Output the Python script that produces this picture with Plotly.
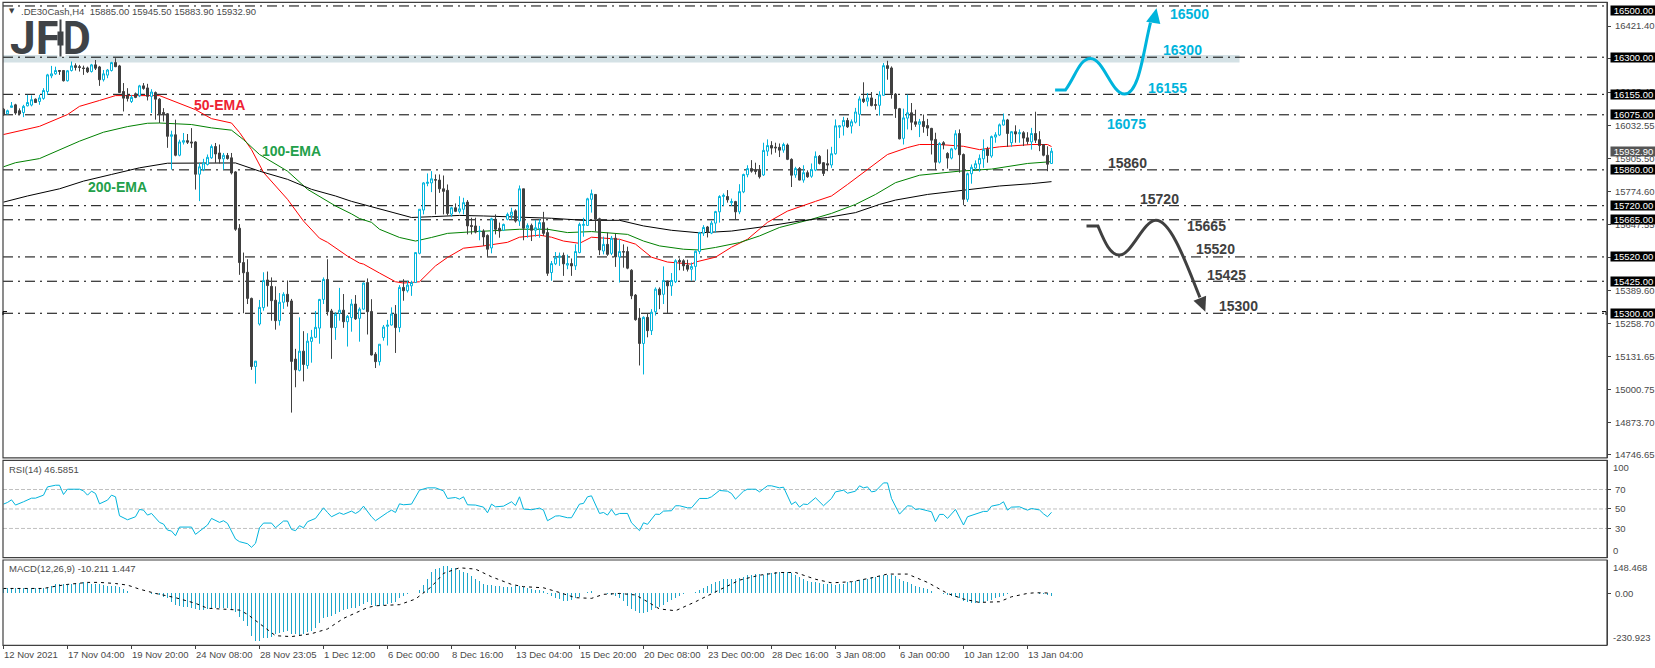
import plotly.graph_objects as go

W, H = 1655, 668
bars = list(range(263))

opens = [16097,16079,16104,16114,16091,16084,16110,16113,16136,16127,
16139,16166,16227,16235,16248,16248,16208,16248,16267,16263,
16258,16258,16244,16270,16262,16212,16230,16248,16279,16266,
16166,16151,16127,16157,16149,16188,16180,16147,16162,16136,
16084,16079,15991,15997,15917,15968,15974,15969,15969,15843,
15861,15881,15907,15951,15926,15903,15916,15907,15852,15632,
15498,15460,15358,15092,15258,15322,15430,15405,15351,15271,
15343,15374,15348,15121,15077,15152,15096,15190,15206,15242,
15354,15432,15309,15244,15299,15312,15267,15283,15336,15280,
15316,15420,15307,15140,15111,15205,15249,15254,15297,15244,
15401,15388,15407,15420,15534,15703,15807,15809,15822,15820,
15786,15780,15687,15712,15698,15706,15734,15643,15641,15619,
15621,15604,15555,15667,15632,15624,15667,15682,15700,15660,
15786,15633,15643,15624,15630,15654,15615,15459,15493,15519,
15526,15488,15494,15485,15537,15643,15643,15745,15764,15669,
15543,15569,15534,15593,15520,15541,15541,15468,15371,15281,
15182,15284,15232,15306,15394,15374,15426,15407,15423,15506,
15505,15488,15472,15483,15541,15613,15637,15613,15652,15696,
15756,15756,15732,15736,15696,15774,15841,15865,15859,15858,
15840,15933,15955,15949,15948,15937,15957,15901,15840,15865,
15820,15849,15835,15859,15913,15888,15884,15879,15923,16027,
16031,16053,16031,16046,16077,16137,16128,16141,16115,16112,
16151,16267,16258,16156,16099,15983,16062,16083,16048,16038,
16049,16033,16022,15979,15890,15966,15924,15906,15942,16002,
15920,15745,15845,15867,15883,15903,15940,15914,15988,15996,
16035,16055,15966,16009,16001,16005,15985,15969,16002,15978,
15959,15917,15885.0]
highs = [16101,16095,16125,16118,16100,16114,16153,16151,16139,16153,
16179,16235,16266,16263,16250,16250,16250,16283,16276,16270,
16267,16263,16274,16289,16266,16250,16254,16282,16296,16270,
16199,16179,16153,16162,16192,16199,16196,16175,16166,16140,
16101,16082,16013,16056,15978,16004,16000,16023,15972,15887,
15903,15920,15959,15965,15959,15926,15926,15926,15855,15648,
15537,15511,15361,15113,15352,15460,15463,15440,15405,15379,
15382,15428,15356,15161,15284,15230,15222,15235,15309,15356,
15440,15511,15317,15304,15399,15375,15293,15355,15371,15323,
15420,15436,15355,15148,15179,15254,15274,15323,15332,15410,
15433,15427,15427,15537,15706,15812,15846,15855,15842,15842,
15838,15803,15716,15729,15757,15751,15742,15673,15673,15641,
15628,15608,15673,15686,15654,15650,15693,15712,15706,15799,
15786,15651,15650,15664,15667,15696,15634,15504,15539,15537,
15537,15529,15514,15569,15654,15673,15751,15783,15764,15673,
15599,15615,15602,15612,15589,15569,15560,15472,15375,15320,
15288,15297,15316,15401,15401,15483,15427,15457,15511,15514,
15511,15509,15498,15545,15618,15644,15641,15661,15700,15761,
15768,15781,15748,15739,15804,15845,15878,15898,15888,15879,
15966,15979,15972,15966,15963,15966,15963,15905,15872,15871,
15878,15858,15885,15932,15918,15890,15940,15950,16057,16033,
16067,16063,16057,16102,16147,16202,16160,16164,16137,16167,
16277,16286,16264,16160,16102,16099,16154,16121,16095,16059,
16076,16059,16024,16005,15968,15972,15929,15946,16015,16018,
15924,15849,15881,15897,15920,15979,15950,15994,16007,16041,
16080,16059,16011,16034,16018,16011,16007,16024,16087,16011,
15959,15952,15945.5]
lows = [16071,16077,16104,16075,16074,16066,16108,16108,16121,16114,
16134,16153,16218,16231,16231,16205,16205,16244,16248,16244,
16231,16238,16240,16250,16188,16205,16218,16244,16261,16160,
16088,16127,16121,16140,16144,16173,16131,16082,16056,16043,
16049,15946,15861,15913,15913,15959,15961,15946,15783,15738,
15855,15877,15903,15887,15885,15861,15900,15842,15622,15450,
15300,15336,15079,15025,15252,15310,15326,15271,15236,15252,
15317,15326,14912,15011,15073,15034,15083,15107,15203,15181,
15336,15291,15122,15196,15271,15243,15170,15228,15274,15189,
15314,15217,15135,15086,15096,15193,15174,15252,15145,15226,
15349,15381,15368,15420,15530,15686,15796,15773,15686,15770,
15686,15682,15677,15695,15690,15686,15608,15608,15612,15585,
15563,15521,15534,15608,15595,15621,15663,15667,15654,15641,
15585,15595,15582,15599,15595,15602,15446,15427,15488,15485,
15446,15472,15446,15469,15534,15599,15641,15693,15620,15527,
15530,15524,15527,15481,15420,15478,15472,15355,15271,15096,
15061,15206,15215,15291,15316,15336,15301,15368,15418,15468,
15466,15463,15427,15427,15531,15602,15596,15609,15615,15654,
15719,15732,15719,15665,15687,15769,15831,15849,15842,15826,
15836,15914,15920,15927,15910,15927,15898,15793,15829,15819,
15810,15829,15829,15855,15881,15836,15855,15868,15919,15984,
15994,16024,16002,16041,16031,16121,16108,16108,16095,16072,
16150,16212,16138,16063,15979,15959,16018,16015,16028,15988,
16005,15992,15920,15859,15885,15940,15865,15901,15937,15849,
15722,15735,15806,15859,15853,15868,15888,15907,15966,15992,
16033,15950,15950,15966,15966,15953,15959,15939,15965,15933,
15913,15855,15883.9]
closes = [16075,16091,16110,16082,16079,16108,16123,16134,16123,16141,
16170,16231,16235,16248,16245,16208,16247,16266,16260,16260,
16256,16243,16270,16257,16212,16235,16250,16279,16263,16162,
16140,16139,16143,16143,16188,16178,16147,16164,16136,16078,
16079,15991,15997,15917,15969,15974,15968,15965,15843,15872,
15887,15909,15951,15922,15903,15917,15904,15848,15628,15498,
15458,15358,15092,15113,15323,15428,15408,15349,15271,15343,
15374,15345,15112,15079,15152,15100,15191,15206,15245,15354,
15432,15306,15244,15296,15312,15267,15288,15336,15278,15316,
15418,15306,15137,15111,15179,15246,15254,15297,15244,15401,
15388,15410,15420,15537,15706,15809,15812,15825,15820,15786,
15776,15690,15712,15698,15708,15732,15641,15639,15617,15621,
15598,15550,15669,15628,15621,15647,15686,15695,15660,15786,
15632,15643,15624,15634,15654,15612,15456,15494,15517,15523,
15493,15494,15485,15541,15647,15647,15747,15767,15667,15547,
15569,15530,15593,15520,15541,15539,15476,15368,15275,15182,
15284,15232,15304,15394,15372,15428,15407,15428,15505,15501,
15485,15472,15483,15542,15615,15635,15615,15652,15697,15756,
15761,15743,15736,15696,15775,15842,15865,15855,15854,15833,
15936,15955,15945,15946,15937,15959,15901,15839,15865,15820,
15849,15833,15861,15913,15885,15846,15879,15923,16032,16032,
16053,16028,16048,16086,16137,16127,16141,16111,16112,16153,
16267,16256,16158,16099,15981,16063,16083,16046,16038,16048,
16029,16023,15976,15890,15963,15958,15906,15942,16001,15919,
15745,15845,15870,15884,15905,15940,15916,15990,15997,16036,
16055,16002,16009,16000,16005,15984,15971,16002,15976,15955,
15917,15882,15932.9]

ema50_bars = [0,9,16,19,24,28,39,41,48,52,57,59,62,65,71,75,79,81,86,89,90,94,98,100,104,108,111,115,120,126,129,134,137,140,144,147,154,158,162,166,172,173,178,182,186,191,196,203,207,211,216,221,226,229,234,240,244,249,257,261,262]
ema50 = [15998,16030,16076,16108,16131,16150,16150,16138,16095,16060,16043,16006,15939,15850,15745,15660,15593,15577,15523,15496,15492,15457,15423,15418,15423,15485,15518,15554,15563,15577,15597,15605,15597,15582,15573,15597,15589,15570,15519,15500,15492,15500,15519,15558,15589,15655,15699,15737,15758,15803,15862,15920,15947,15959,15959,15952,15939,15950,15959,15959,15951]
ema100_bars = [0,3,9,14,19,25,31,36,39,47,52,57,60,64,71,76,83,87,89,92,94,99,103,107,111,116,122,129,136,141,147,156,160,164,170,174,178,184,189,194,202,207,213,218,223,229,239,247,256,262]
ema100 = [15872,15888,15904,15939,15972,16007,16029,16042,16043,16037,16024,16015,15978,15920,15855,15784,15719,15688,15670,15655,15628,15596,15582,15596,15612,15617,15621,15628,15628,15615,15619,15608,15582,15563,15550,15547,15557,15576,15602,15635,15667,15690,15725,15764,15810,15839,15855,15863,15885,15892]
ema200_bars = [0,6,14,20,27,34,41,52,58,64,71,77,83,87,92,97,102,107,114,120,129,137,145,154,160,167,174,182,190,199,206,213,219,223,231,240,249,257,262]
ema200 = [15734,15758,15786,15816,15842,15868,15886,15887,15887,15855,15823,15784,15758,15737,15716,15693,15674,15677,15682,15680,15676,15671,15663,15663,15641,15624,15614,15621,15638,15660,15674,15693,15725,15742,15764,15781,15797,15806,15814]

rsi_bars = [0,1,2,3,5,7,8,10,11,13,14,15,16,19,20,21,22,23,24,26,27,28,29,31,33,34,35,36,37,39,40,41,42,43,44,47,48,51,52,54,55,56,58,59,61,62,63,64,65,67,68,70,71,72,73,74,75,76,78,80,81,82,84,85,87,88,89,90,92,93,96,97,98,99,100,102,104,106,108,110,111,113,114,115,116,118,120,121,122,123,125,127,128,129,
130,132,134,135,136,138,139,141,142,144,145,146,147,149,150,151,152,153,154,156,157,159,160,161,163,164,165,167,168,169,171,172,174,176,177,179,181,182,183,185,186,188,189,191,192,194,195,197,198,199,200,201,203,205,207,208,210,211,213,214,215,216,217,218,220,221,222,224,226,227,228,229,231,232,233,234,235,236,238,240,241,243,245,246,247,249,250,251,252,254,256,257,258,259,260,261,262]
rsi = [55,56.7,59.4,54,57.4,61.1,61.1,64.2,72.7,74.4,74.4,64.9,70.3,70.3,68.6,64.2,68.3,65.9,55.3,59.1,64.2,62.5,43,38.9,42,49.5,48.8,43.7,45.4,36.2,34.5,28.3,27.3,22.5,31.4,31.4,23.9,33.5,40.3,36.2,37.9,35.2,19.1,16.4,14.3,10.6,14.7,30.7,35.5,35.5,30.7,37.6,37.6,29,27.7,32.8,30.7,36.9,40.3,51.2,46.4,42,46.1,44.4,47.8,45.4,47.8,52.9,42,37.9,46.4,48.8,46.4,55.3,54.3,55,69.3,71.7,71.7,68.6,60.8,61.8,60.1,62.5,54.3,54,51.9,46.1,55,52.2,52.9,57.4,53.5,62.5,
49.9,49.2,50.9,48.8,37.9,42.7,43,41,41,55,55.7,62.5,63.5,45.4,46.4,43.7,49.5,43.7,45.4,45.4,35.8,27.7,35.8,34.2,44.7,44.4,47.8,48.2,53.3,53.3,51.2,51.2,60.8,60.8,62.5,69,68.3,65.9,60.1,68.3,70.3,70.3,67.6,73.8,73.8,71.7,72.4,54.6,57.4,51.9,55,54.6,61.5,53.3,60.8,67.6,69.3,66.2,68.3,73.8,71.7,72.7,67.6,68.3,76.8,76.8,60.8,44.7,53.3,52.9,49.5,50.2,48.2,47.1,36.9,44.4,44.4,40.3,49.5,33.5,42,44.4,47.5,47.5,52.9,54.6,57.4,48.8,51.9,52.2,48.8,50.5,50,49,45,42,46.5851]

macd_hist = [22,22,22,22,22,22,22,22,22,22,22,25,34,40,40,40,40,43,44,47,49,47,44,43,40,37,34,34,32,30,19,10,3,1.5,1.5,1.5,0,-1.5,-3,-7,
-15,-22,-37,-52,-56,-59,-62,-66,-71,-74,-74,-69,-66,-66,-66,-66,-66,-74,-81,-103,-121,-145,-188,-210,-211,-199,-196,-192,-182,-177,
-170,-167,-179,-182,-185,-182,-173,-167,-155,-133,-111,-103,-99,-93,-84,-74,-69,-66,-63,-56,-49,-37,-52,-55,-55,-52,-49,-44,-37,-22,
-10,-4,1.5,4,15,37,66,93,108,114,120,123,114,111,105,96,89,78,66,55,44,37,37,35,32,30,30,30,32,32,
30,22,18,15,15,12,-4,-10,-19,-25,-32,-34,-30,-19,-15,0,7,12,4,0,0,-4,-7,-10,-19,-34,-55,-69,-78,-86,
-89,-81,-74,-66,-59,-52,-37,-30,-19,-10,-4,0,3,7,15,25,34,40,49,56,63,63,63,62,69,74,81,84,86,86,
84,89,92,95,96,97,96,92,81,74,63,55,52,49,46,44,41,40,37,40,41,49,52,56,59,63,66,71,74,78,
81,81,84,78,66,55,49,40,34,30,22,18,10,3,0,-3,-7,-10,-15,-19,-34,-40,-44,-44,-44,-40,-34,-30,-19,-15,
-10,-1.5,0,0,0,1.5,1.5,1.5,1.5,-1,-3,-6,-10.211]
signal_bars = [0,10,13,16,21,24,28,31,34,38,43,48,51,56,59,61,65,68,72,77,81,85,91,93,99,103,107,110,114,118,122,127,130,135,139,143,147,150,154,158,161,164,168,173,178,184,189,194,198,203,207,212,217,221,226,231,236,240,244,249,252,256,258,262]
signal = [22,22,32,40,49,49,44,37,19,0,-19,-44,-66,-71,-74,-93,-148,-188,-192,-179,-158,-111,-63,-55,-50,-25,30,89,114,108,74,40,30,25,4,-19,-22,-4,0,-7,-37,-69,-77,-37,7,59,81,93,93,63,47,52,69,86,86,49,0,-25,-40,-37,-15,0,3,1.447]

level_prices = [16500,16300,16155,16075,15860,15720,15665,15520,15425,15300]
axis_ticks = [16421.40,16294.35,16163.45,16032.55,15905.50,15774.60,15647.55,15516.65,15389.60,15258.70,15131.65,15000.75,14873.70,14746.65]
time_ticks = [0,16,32,48,64,80,96,112,128,144,160,176,192,208,224,240,256]
time_labels = ["12 Nov 2021","17 Nov 04:00","19 Nov 20:00","24 Nov 08:00","28 Nov 23:05","1 Dec 12:00","6 Dec 00:00","8 Dec 16:00","13 Dec 04:00","15 Dec 20:00","20 Dec 08:00","23 Dec 00:00","28 Dec 16:00","3 Jan 08:00","6 Jan 00:00","10 Jan 12:00","13 Jan 04:00"]

blue_labels = [("16500",296.5,16469),("16300",294.75,16329),("16155",290.9,16181),("16075",280.75,16041)]
dark_labels = [("15860",280.9,15886),("15720",288.9,15745),("15665",300.65,15640),("15520",303,15550),("15425",305.7,15449),("15300",308.75,15328)]
ema_labels = [("50-EMA",54,16115,"#ee2233"),("100-EMA",72,15935,"#22a04a"),("200-EMA",28.5,15795,"#22a04a")]

FONT = "Liberation Sans"
TXT = "#4a4a4a"
BLUE = "#00b4dc"
DARK = "#404040"
LOGO = "#3f4347"

def py(v):
    return 1 - v / H
def px(v):
    return v / W

XMIN, XMAX = -0.125, 400.875

fig = go.Figure()
line_style = [("#ff0000", ema50_bars, ema50), ("#008000", ema100_bars, ema100), ("#000000", ema200_bars, ema200)]
for col, xs, ys in line_style:
    fig.add_trace(go.Scatter(x=xs, y=ys, mode="lines", line=dict(color=col, width=1), xaxis="x", yaxis="y", showlegend=False, hoverinfo="skip"))
fig.add_trace(go.Candlestick(x=bars, open=opens, high=highs, low=lows, close=closes, xaxis="x", yaxis="y4",
    increasing=dict(line=dict(color=BLUE, width=1), fillcolor="#ffffff"),
    decreasing=dict(line=dict(color=DARK, width=1), fillcolor=DARK),
    whiskerwidth=0, showlegend=False, hoverinfo="skip"))
fig.add_trace(go.Scatter(x=rsi_bars, y=rsi, mode="lines", line=dict(color=BLUE, width=1), xaxis="x", yaxis="y2", showlegend=False, hoverinfo="skip"))
fig.add_trace(go.Bar(x=bars, y=macd_hist, width=0.25, marker=dict(color="#1ea6ca", line=dict(width=0)), xaxis="x", yaxis="y3", showlegend=False, hoverinfo="skip"))
fig.add_trace(go.Scatter(x=signal_bars, y=signal, mode="lines", line=dict(color="#000000", width=1, dash="3px,4px"), xaxis="x", yaxis="y3", showlegend=False, hoverinfo="skip"))

shapes = []
shapes.append(dict(type="rect", xref="x", yref="y", x0=XMIN, x1=309, y0=16279, y1=16309, fillcolor="#d4e1e5", line=dict(width=0), layer="below"))
for p in level_prices:
    shapes.append(dict(type="line", xref="x", yref="y", x0=XMIN, x1=XMAX, y0=p, y1=p, line=dict(color="#000000", width=1, dash="10px,5px,2px,5px"), layer="below"))
for lv in (70, 50, 30):
    shapes.append(dict(type="line", xref="x", yref="y2", x0=XMIN, x1=XMAX, y0=lv, y1=lv, line=dict(color="#c0c0c0", width=1, dash="4px,2px"), layer="below"))
for top, bot in ((2.3, 459.3), (461.7, 559.3), (561.7, 647.3)):
    shapes.append(dict(type="rect", xref="paper", yref="paper", x0=px(3), x1=px(1607), y0=py(bot), y1=py(top), line=dict(color=DARK, width=1.2), fillcolor="rgba(0,0,0,0)", layer="above"))
shapes.append(dict(type="path", xref="x", yref="y", layer="above", line=dict(color=BLUE, width=3),
    path="M 262.9,16172 L 265.5,16172 C 268,16225 269,16295 271.75,16295 C 275,16295 277,16156 280.25,16156 C 284,16156 285,16330 286.75,16435"))
shapes.append(dict(type="path", xref="x", yref="y", layer="above", line=dict(width=0), fillcolor=BLUE,
    path="M 288.25,16491 L 285.65,16438 L 289.2,16430 Z"))
shapes.append(dict(type="path", xref="x", yref="y", layer="above", line=dict(color=DARK, width=3),
    path="M 270.75,15641 L 273.6,15641 C 275,15590 276.5,15527 279,15527 C 282,15527 285,15663 288.1,15663 C 292,15663 296,15480 299.1,15362"))
shapes.append(dict(type="path", xref="x", yref="y", layer="above", line=dict(width=0), fillcolor=DARK,
    path="M 300.45,15306 L 297.5,15349 L 300.65,15368 Z"))
shapes.append(dict(type="path", xref="paper", yref="paper", line=dict(color="#000000", width=1), layer="above",
    path=f"M {px(3)},{py(316)} L {px(3)},{py(312.5)} L {px(7)},{py(312.5)}"))
shapes.append(dict(type="path", xref="paper", yref="paper", line=dict(color="#000000", width=1), layer="above",
    path=f"M {px(1602)},{py(312.5)} L {px(1606)},{py(312.5)} L {px(1606)},{py(316)}"))

def cap(text, x, y, size=9.5, color=TXT, family=FONT, **kw):
    d = dict(text=text, x=px(x), y=py(y), xref="paper", yref="paper", xanchor="left", yanchor="middle", showarrow=False,
             font=dict(family=family, size=size, color=color, **kw))
    return d

ann = []
for text, x, y in blue_labels:
    ann.append(dict(text=text, x=x, y=y, xref="x", yref="y", showarrow=False, font=dict(family=FONT, size=14, color=BLUE, weight="bold")))
for text, x, y in dark_labels:
    ann.append(dict(text=text, x=x, y=y, xref="x", yref="y", showarrow=False, font=dict(family=FONT, size=14, color=DARK, weight="bold")))
for text, x, y, c in ema_labels:
    ann.append(dict(text=text, x=x, y=y, xref="x", yref="y", showarrow=False, font=dict(family=FONT, size=14, color=c, weight="bold")))
for p in level_prices:
    ann.append(dict(text=f"{p:.2f}", x=px(1610), y=min(p, 16484), xref="paper", yref="y", xanchor="left", yanchor="middle", showarrow=False,
        bgcolor="#000000", font=dict(family=FONT, size=9.5, color="#ffffff"), width=45, height=9, borderpad=0, align="center"))
ann.append(dict(text="15932.90", x=px(1610), y=15932.9, xref="paper", yref="y", xanchor="left", yanchor="middle", showarrow=False,
    bgcolor="#555555", font=dict(family=FONT, size=9.5, color="#ffffff"), width=45, height=9, borderpad=0, align="center"))
ann.append(cap("▼", 7, 11.5, size=7, color=DARK, family="DejaVu Sans"))
ann.append(cap(".DE30Cash,H4  15885.00 15945.50 15883.90 15932.90", 19, 11.7))
ann.append(cap("RSI(14) 46.5851", 6.5, 470.7))
ann.append(cap("MACD(12,26,9) -10.211 1.447", 6.5, 570.5))
# logo: the stem of the D is replaced by a small candle
logo = cap("JFD", 9, 38, size=46, color=LOGO, family="Roboto", weight="bold")
logo.update(height=38, width=80, borderpad=0, align="left")
ann.append(logo)
for cx, w, h, yy, col in ((61, 7, 36, 38, "#ffffff"), (60.5, 1, 36, 38, LOGO), (60.5, 5, 13, 38.5, LOGO)):
    ann.append(dict(text="\u00a0", x=px(cx), y=py(yy), xref="paper", yref="paper", xanchor="center", yanchor="middle", showarrow=False,
                    bgcolor=col, width=w, height=h, borderpad=0, font=dict(size=1, color=col)))
for t, x, v, r in (("100", 1610.5, 93, "y2"), ("0", 1610.5, 7, "y2"), ("148.468", 1610.5, 117, "y3"), ("-230.923", 1610.5, -198, "y3")):
    ann.append(dict(text=t, x=px(x), y=v, xref="paper", yref=r, xanchor="left", yanchor="middle", showarrow=False, font=dict(family=FONT, size=9.5, color=TXT)))
for t, lab in zip(time_ticks, time_labels):
    ann.append(dict(text=lab, x=t, y=py(656.7), xref="x", yref="paper", xanchor="left", yanchor="middle", showarrow=False, xshift=-2, font=dict(family=FONT, size=9.5, color=TXT)))

yax = dict(side="right", anchor="x", showgrid=False, zeroline=False, showline=True, linecolor=DARK, linewidth=1,
           ticks="outside", ticklen=3, tickcolor=DARK, tickfont=dict(family=FONT, size=9.5, color=TXT), ticklabelstandoff=2)
main_range = [14735, 16514.4]
fig.update_layout(
    width=W, height=H, margin=dict(l=0, r=0, t=0, b=0), paper_bgcolor="#ffffff", plot_bgcolor="#ffffff",
    showlegend=False, bargap=0, hovermode=False, dragmode=False,
    xaxis=dict(domain=[px(3), px(1607)], range=[XMIN, XMAX], anchor="y3", rangeslider=dict(visible=False), showgrid=False, zeroline=False,
               showline=False, ticks="outside", ticklen=3, tickcolor=DARK, tickvals=time_ticks, showticklabels=False),
    yaxis=dict(domain=[py(459.3), py(2.3)], range=main_range, tickmode="array", tickvals=axis_ticks, ticktext=[f"{v:.2f}" for v in axis_ticks], **yax),
    yaxis2=dict(domain=[py(559.3), py(461.7)], range=[0, 100], tickmode="array", tickvals=[70, 50, 30], **yax),
    yaxis3=dict(domain=[py(647.3), py(561.7)], range=[-230.923, 148.468], tickmode="array", tickvals=[0], ticktext=["0.00"], **yax),
    yaxis4=dict(range=main_range, overlaying="y", visible=False, anchor="x", side="right"),
    shapes=shapes, annotations=ann,
    boxgap=0.5, boxgroupgap=0,
)
fig.write_html("out.html", post_script="document.body.style.margin='0';document.body.style.overflow='hidden';", config=dict(displayModeBar=False, staticPlot=True))
